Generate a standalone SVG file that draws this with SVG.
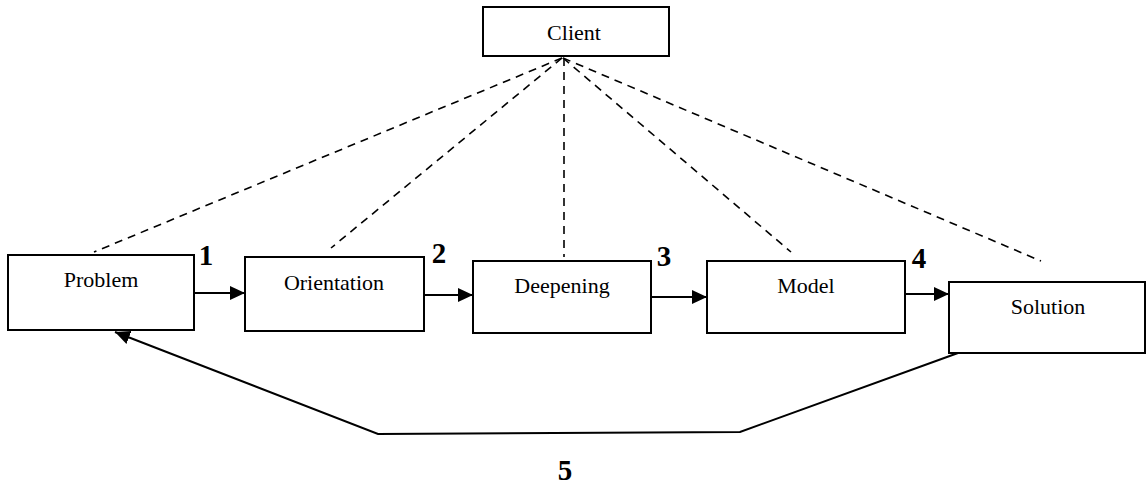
<svg xmlns="http://www.w3.org/2000/svg" width="1147" height="486" viewBox="0 0 1147 486">
<style>
.box{fill:#fff;stroke:#000;stroke-width:2}
.lbl{font-family:"Liberation Serif","Times New Roman",serif;font-size:22px;fill:#000;text-anchor:middle}
.num{font-family:"Liberation Serif","Times New Roman",serif;font-size:29px;font-weight:bold;fill:#000;text-anchor:middle}
.dash{stroke:#000;stroke-width:1.6;stroke-dasharray:8 6;fill:none}
.solid{stroke:#000;stroke-width:2;fill:none}
</style>
<defs>
<marker id="ah" viewBox="0 0 15 14" refX="15" refY="7" markerWidth="15" markerHeight="14" markerUnits="userSpaceOnUse" orient="auto">
<path d="M0,0 L15,7 L0,14 Z" fill="#000"/>
</marker>
</defs>
<rect width="1147" height="486" fill="#fff"/>
<g id="connectors">
<line class="dash" x1="562" y1="58" x2="94" y2="252"/>
<line class="dash" x1="562" y1="58" x2="331" y2="248"/>
<line class="dash" x1="564" y1="58" x2="564" y2="257"/>
<line class="dash" x1="563" y1="58" x2="791" y2="252"/>
<line class="dash" x1="563" y1="58" x2="1041" y2="261"/>
<line class="solid" x1="194" y1="293" x2="245" y2="293" marker-end="url(#ah)"/>
<line class="solid" x1="424" y1="295" x2="473" y2="295" marker-end="url(#ah)"/>
<line class="solid" x1="651" y1="297" x2="707" y2="297" marker-end="url(#ah)"/>
<line class="solid" x1="905" y1="294" x2="949" y2="294" marker-end="url(#ah)"/>
<polyline class="solid" points="958,353 740,432 378,434 115,332" marker-end="url(#ah)"/>
</g>
<g id="client">
<rect class="box" x="483" y="7" width="186" height="49"/>
<text class="lbl" x="574" y="40">Client</text>
</g>
<g id="problem">
<rect class="box" x="8" y="255" width="186" height="75"/>
<text class="lbl" x="101" y="287">Problem</text>
</g>
<g id="orientation">
<rect class="box" x="245" y="257" width="179" height="74"/>
<text class="lbl" x="334" y="290">Orientation</text>
</g>
<g id="deepening">
<rect class="box" x="473" y="261" width="178" height="72"/>
<text class="lbl" x="562" y="293">Deepening</text>
</g>
<g id="model">
<rect class="box" x="707" y="261" width="198" height="72"/>
<text class="lbl" x="806" y="293">Model</text>
</g>
<g id="solution">
<rect class="box" x="949" y="282" width="196" height="71"/>
<text class="lbl" x="1048" y="314">Solution</text>
</g>
<g id="numbers">
<text class="num" x="206" y="265">1</text>
<text class="num" x="439" y="263">2</text>
<text class="num" x="664" y="266">3</text>
<text class="num" x="919" y="268">4</text>
<text class="num" x="565" y="480">5</text>
</g>
</svg>
